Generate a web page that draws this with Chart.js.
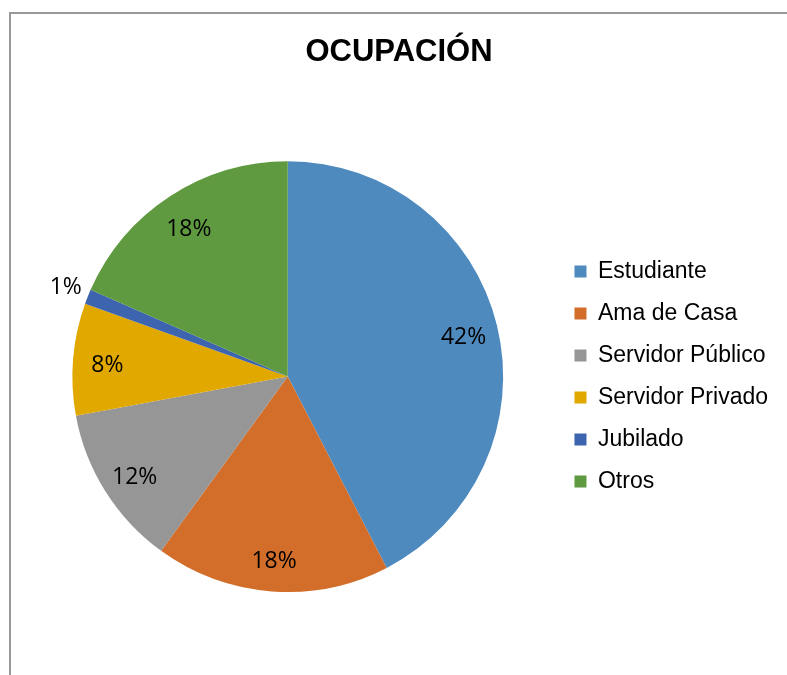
<!DOCTYPE html>
<html>
<head>
<meta charset="utf-8">
<script src="https://cdn.jsdelivr.net/npm/chart.js@4"></script>
<style>
    html, body { margin: 0; padding: 0; background: #ffffff; }
    #frame {
        position: absolute; left: 9px; top: 12px; width: 800px; height: 700px;
        border-left: 2px solid #999999; border-top: 2px solid #999999;
    }
    #wrap { position: absolute; left: 0; top: 0; width: 787px; height: 675px; }
</style>
</head>
<body>
<div id="frame"></div>
<div id="wrap"><canvas id="chart-ocupacion" width="787" height="675"></canvas></div>
<script>
const categories = ["Estudiante", "Ama de Casa", "Servidor Público", "Servidor Privado", "Jubilado", "Otros"];
const shares = [42.4, 17.6, 12.1, 8.4, 1.1, 18.4];
const colors = ["#4f8abf", "#d26e2a", "#969696", "#e1a800", "#3d64ae", "#5f9a40"];

// percentage labels inside the slices, small ones pushed outside
const sliceLabels = {
    id: 'sliceLabels',
    afterDatasetsDraw(chart) {
        const ctx = chart.ctx;
        const meta = chart.getDatasetMeta(0);
        const total = shares.reduce((a, b) => a + b, 0);
        ctx.save();
        ctx.font = '23px "Open Sans", sans-serif';
        ctx.fillStyle = '#000000';
        ctx.textAlign = 'center';
        ctx.textBaseline = 'middle';
        meta.data.forEach((arc, i) => {
            const p = arc.getProps(['x', 'y', 'startAngle', 'endAngle', 'outerRadius'], true);
            const mid = (p.startAngle + p.endAngle) / 2;
            const pct = shares[i] / total * 100;
            const outside = pct < 3;
            const r = outside ? p.outerRadius * 1.11 : p.outerRadius * 0.84;
            const dy = outside ? 0 : 4;
            ctx.fillText(Math.round(pct) + '%', p.x + Math.cos(mid) * r, p.y + Math.sin(mid) * r + dy);
        });
        ctx.restore();
    }
};

const ctx = document.getElementById('chart-ocupacion').getContext('2d');
new Chart(ctx, {
    type: 'pie',
    data: {
        labels: categories,
        datasets: [{
            data: shares,
            backgroundColor: colors,
            borderWidth: 0
        }]
    },
    options: {
        responsive: false,
        animation: false,
        layout: { padding: { left: 20, right: 9, top: 0, bottom: 83 } },
        plugins: {
            tooltip: { enabled: false },
            title: {
                display: true,
                text: 'OCUPACIÓN',
                color: '#000000',
                font: { family: '"Liberation Sans", Arial, sans-serif', size: 31, weight: 'bold', lineHeight: 1.2 },
                padding: { top: 34, bottom: 90 }
            },
            legend: {
                position: 'right',
                fullSize: false,
                labels: {
                    color: '#000000',
                    font: { family: '"Liberation Sans", Arial, sans-serif', size: 23, lineHeight: 1.2 },
                    boxWidth: 12,
                    boxHeight: 12,
                    padding: 19
                }
            }
        }
    },
    plugins: [sliceLabels]
});
</script>
</body>
</html>
